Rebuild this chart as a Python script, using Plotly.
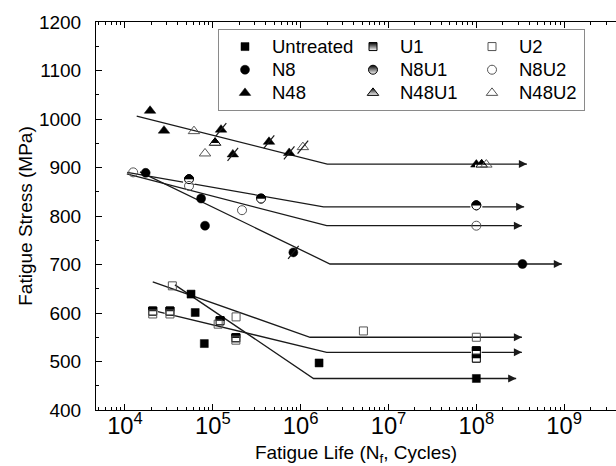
import plotly.graph_objects as go

# ---------------- data ----------------
untreated_N = [5.65e4, 6.3e4, 8.0e4, 1.62e6, 1.0e8]
untreated_S = [639, 601, 537, 497, 465]
u1_N = [2.07e4, 3.25e4, 1.21e5, 1.83e5, 1.0e8, 1.0e8]
u1_S = [604, 604, 584, 549, 522, 507]
u2_N = [2.07e4, 3.25e4, 3.46e4, 1.15e5, 1.84e5, 1.83e5, 5.18e6, 1.0e8]
u2_S = [598, 598, 656, 577, 592, 544, 563, 550]
n8_N = [1.72e4, 7.35e4, 8.15e4, 8.26e5, 3.35e8]
n8_S = [889, 836, 780, 725, 701]
n8u1_N = [5.36e4, 3.54e5, 1.0e8]
n8u1_S = [876, 836, 822]
n8u2_N = [1.24e4, 5.36e4, 2.15e5, 1.0e8]
n8u2_S = [890, 862, 812, 780]
n48_N = [1.93e4, 2.78e4, 1.24e5, 1.69e5, 4.36e5, 7.4e5, 1.0e8]
n48_S = [1017, 976, 978, 927, 953, 930, 906]
n48u1_N = [1.06e5, 1.15e8]
n48u1_S = [951, 906]
n48u2_N = [6.1e4, 8.15e4, 1.06e6, 1.3e8]
n48u2_S = [975, 929, 942, 906]

# fitted S-N curves: start, knee, run-out arrow tip
fit_n48_N = [1.36e4, 2.01e6, 3.76e8];  fit_n48_S = [1006, 907, 907]
fit_n8u1_N = [1.06e4, 1.82e6, 3.5e8];  fit_n8u1_S = [890, 819, 819]
fit_n8u2_N = [1.05e4, 1.98e6, 3.3e8];  fit_n8u2_S = [887, 780, 780]
fit_n8_N = [1.48e4, 2.16e6, 9.4e8];    fit_n8_S = [891, 701, 701]
fit_u2_N = [2.07e4, 1.28e6, 3.3e8];    fit_u2_S = [664, 550, 550]
fit_u1_N = [2.01e4, 1.98e6, 3.3e8];    fit_u1_S = [606, 519, 519]
fit_un_N = [3.7e4, 1.4e6, 2.84e8];     fit_un_S = [658, 465, 465]

# points marked with a slash (indices into the series)
slash_n48_idx = [2, 3, 4, 5]
slash_n48u2_idx = [2]
slash_n8_idx = [3]

# ---------------- figure ----------------
FONT = "Liberation Sans, Arial, sans-serif"
LINEC = "#1a1a1a"
OPENC = "#555555"
fig = go.Figure()

fits = [(fit_n48_N, fit_n48_S), (fit_n8u1_N, fit_n8u1_S), (fit_n8u2_N, fit_n8u2_S),
        (fit_n8_N, fit_n8_S), (fit_u2_N, fit_u2_S), (fit_u1_N, fit_u1_S),
        (fit_un_N, fit_un_S)]
for fx, fy in fits:
    fig.add_trace(go.Scatter(x=fx, y=fy, mode="lines", line=dict(color=LINEC, width=1.3),
                             showlegend=False, hoverinfo="skip"))
# arrow heads at run-out ends
fig.add_trace(go.Scatter(x=[f[0][-1] for f in fits], y=[f[1][-1] for f in fits],
                         mode="markers", showlegend=False, hoverinfo="skip",
                         marker=dict(symbol="arrow-right", size=8, color=LINEC,
                                     line=dict(width=0))))


def filled(sym, size):
    return dict(symbol=sym, size=size, color="black", line=dict(color="black", width=0.5))


def half(sym, size):
    return dict(symbol=sym, size=size, color="black",
                gradient=dict(type="vertical", color="white"),
                line=dict(color="black", width=1))


def opened(sym, size):
    return dict(symbol=sym + "-open", size=size, color=OPENC, line=dict(color=OPENC, width=1))


def legname(s):
    return '<span style="font-size:18.5px">' + s + '</span>'


series = [
    ("Untreated", untreated_N, untreated_S, "square", 8, "full", "g1", 69),
    ("N8", n8_N, n8_S, "circle", 9, "full", "g1", 69),
    ("N48", n48_N, n48_S, "triangle-up", 10, "full", "g1", 69),
    ("U1", u1_N, u1_S, "square", 8, "half", "g2", 60),
    ("N8U1", n8u1_N, n8u1_S, "circle", 9, "half", "g2", 60),
    ("N48U1", n48u1_N, n48u1_S, "triangle-up", 10, "half", "g2", 60),
    ("U2", u2_N, u2_S, "square", 8, "open", "g3", 60),
    ("N8U2", n8u2_N, n8u2_S, "circle", 9, "open", "g3", 60),
    ("N48U2", n48u2_N, n48u2_S, "triangle-up", 10, "open", "g3", 60),
]
for name, xs, ys, sym, size, kind, grp, lw in series:
    if kind == "full":
        mk = filled(sym, size)
    elif kind == "open":
        mk = opened(sym, size)
    else:
        mk = half(sym, size)
    fig.add_trace(go.Scatter(x=xs, y=ys, mode="markers", name=legname(name), marker=mk,
                             legendgroup=grp, legendwidth=lw))
    if kind == "half":
        # crisp half-filled look on the data points: black shape, white lower half, outline
        fig.add_trace(go.Scatter(x=xs, y=ys, mode="markers", showlegend=False, hoverinfo="skip",
                                 legendgroup=grp,
                                 marker=dict(symbol=sym, size=size, color="black",
                                             line=dict(width=0))))
        fig.add_trace(go.Scatter(x=xs, y=ys, mode="markers", showlegend=False, hoverinfo="skip",
                                 legendgroup=grp,
                                 marker=dict(symbol="line-ew", size=size * 0.95, angle=0,
                                             standoff=size * 0.27,
                                             line=dict(color="white", width=size * 0.5))))
        fig.add_trace(go.Scatter(x=xs, y=ys, mode="markers", showlegend=False, hoverinfo="skip",
                                 legendgroup=grp,
                                 marker=dict(symbol=sym + "-open", size=size, color="black",
                                             line=dict(color="black", width=1))))

# slash marks
sx = [n48_N[i] for i in slash_n48_idx] + [n48u2_N[i] for i in slash_n48u2_idx] + [n8_N[i] for i in slash_n8_idx]
sy = [n48_S[i] for i in slash_n48_idx] + [n48u2_S[i] for i in slash_n48u2_idx] + [n8_S[i] for i in slash_n8_idx]
fig.add_trace(go.Scatter(x=sx, y=sy, mode="markers", showlegend=False, hoverinfo="skip",
                         marker=dict(symbol="line-ns", size=12, angle=39,
                                     line=dict(color=LINEC, width=1.2))))

W, H = 616, 466
L, R, T, B = 96, 0, 22, 56
fig.update_layout(
    width=W, height=H,
    margin=dict(l=L, r=R, t=T, b=B),
    paper_bgcolor="white", plot_bgcolor="white",
    font=dict(family=FONT, size=19, color="black"),
    showlegend=True,
    hovermode=False,
    legend=dict(x=(218 - L) / (W - L - R), y=1 - (29 - T) / (H - T - B),
                xanchor="left", yanchor="top", orientation="h", traceorder="grouped",
                bordercolor="#8a8a8a", borderwidth=1, bgcolor="white",
                font=dict(family=FONT, size=15.5, color="black"), itemwidth=44,
                tracegroupgap=0),
    xaxis=dict(type="log", range=[3.67, 9.59], dtick=1, exponentformat="power",
               showline=True, linecolor="black", linewidth=1, mirror="ticks",
               ticks="inside", ticklen=6, tickwidth=1, tickcolor="black",
               showgrid=False, zeroline=False, ticklabelstandoff=-5,
               minor=dict(ticks="inside", ticklen=3, tickwidth=1, tickcolor="black",
                          dtick="D1", showgrid=False),
               title=dict(text="Fatigue Life (N<sub>f</sub>, Cycles)", standoff=8,
                          font=dict(size=19))),
    yaxis=dict(range=[400, 1200], dtick=100,
               showline=True, linecolor="black", linewidth=1, mirror=False,
               ticks="inside", ticklen=6, tickwidth=1, tickcolor="black",
               showgrid=False, zeroline=False, ticklabelstandoff=10,
               minor=dict(ticks="inside", ticklen=3, tickwidth=1, tickcolor="black",
                          dtick=50, showgrid=False),
               title=dict(text="Fatigue Stress (MPa)", standoff=1, font=dict(size=19))),
)

fig.write_html("out.html",
               config={"displayModeBar": False, "staticPlot": True},
               post_script=("document.body.style.margin='0px';"
                            "document.body.style.overflow='hidden';"
                            "document.documentElement.style.overflow='hidden';"))
